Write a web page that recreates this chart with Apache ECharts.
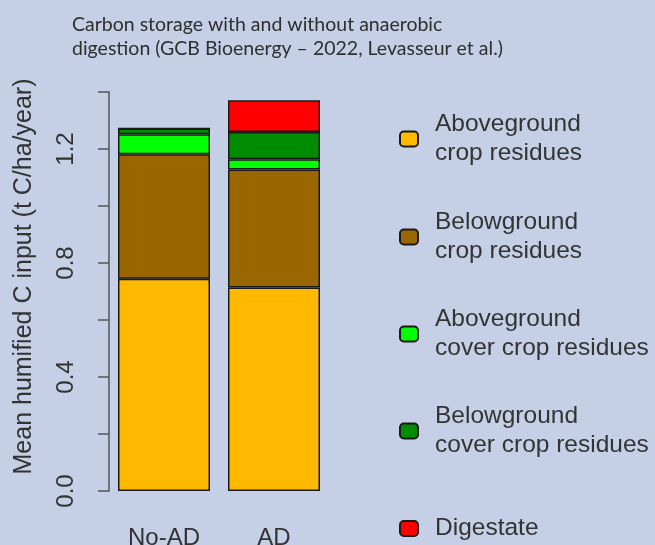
<!DOCTYPE html>
<html>
<head>
<meta charset="utf-8">
<script src="https://cdn.jsdelivr.net/npm/echarts@6/dist/echarts.min.js"></script>
<style>
  html, body { margin: 0; padding: 0; background: #c5d0e6; }
  #chart { width: 655px; height: 545px; }
</style>
</head>
<body>
<div id="chart"></div>
<script>
    // data (t C/ha/year)
    var categories = ['No-AD', 'AD'];
    var seriesNames = [
        'Aboveground\ncrop residues',
        'Belowground\ncrop residues',
        'Aboveground\ncover crop residues',
        'Belowground\ncover crop residues',
        'Digestate'
    ];
    var aboveCrop = [0.745, 0.714];
    var belowCrop = [0.437, 0.414];
    var aboveCover = [0.070, 0.036];
    var belowCover = [0.020, 0.096];
    var digestate = [0, 0.111];
    var yTicks = [0, 0.4, 0.8, 1.2];

    var colors = ['#ffb900', '#996600', '#00ff00', '#008b00', '#ff0000'];
    var values = [aboveCrop, belowCrop, aboveCover, belowCover, digestate];
    var legendTops = [105, 203, 300, 397, 509];

    var font = '"Liberation Sans", Arial, sans-serif';

    var series = seriesNames.map(function (name, i) {
        return {
            name: name,
            type: 'bar',
            stack: 'total',
            barWidth: 92,
            itemStyle: { color: colors[i], borderColor: '#1a1a1a', borderWidth: 1.5 },
            data: values[i]
        };
    });

    var legends = seriesNames.map(function (name, i) {
        return {
            data: [name],
            orient: 'vertical',
            left: 394,
            top: legendTops[i],
            itemWidth: 18,
            itemHeight: 15,
            selectedMode: false,
            textStyle: {
                fontFamily: font,
                fontSize: 24.5,
                lineHeight: 29,
                color: '#333',
                padding: [0, 0, 0, 12]
            }
        };
    });

    var chart = echarts.init(document.getElementById('chart'));
    chart.setOption({
        backgroundColor: '#c5d0e6',
        animation: false,
        title: {
            text: 'Carbon storage with and without anaerobic\ndigestion (GCB Bioenergy \u2013 2022, Levasseur et al.)',
            left: 67,
            top: 8,
            textStyle: {
                fontFamily: 'Lato, sans-serif',
                fontWeight: 'normal',
                fontSize: 19.5,
                lineHeight: 24,
                color: '#2e2e2e'
            }
        },
        legend: legends,
        grid: { left: 109, top: 92, width: 220, height: 399, outerBoundsMode: 'none', containLabel: false },
        xAxis: {
            type: 'category',
            data: categories,
            axisLine: { show: false },
            axisTick: { show: false },
            axisLabel: { fontFamily: font, fontSize: 24, color: '#333', margin: 35 }
        },
        yAxis: {
            type: 'value',
            min: 0,
            max: 1.4,
            interval: 0.2,
            name: 'Mean humified C input (t C/ha/year)',
            nameLocation: 'middle',
            nameGap: 72,
            nameTextStyle: { fontFamily: font, fontSize: 25, color: '#333', padding: [0, 0, 0, 30] },
            splitLine: { show: false },
            axisLine: { show: true, lineStyle: { color: '#555', width: 1.5 } },
            axisTick: { show: true, length: 11, lineStyle: { color: '#555', width: 1.5 } },
            axisLabel: {
                rotate: 90,
                fontFamily: font,
                fontSize: 24,
                color: '#333',
                margin: 31,
                formatter: function (v) {
                    for (var k = 0; k < yTicks.length; k++) {
                        if (Math.abs(v - yTicks[k]) < 1e-6) return v.toFixed(1);
                    }
                    return '';
                }
            }
        },
        series: series
    });
</script>
</body>
</html>
